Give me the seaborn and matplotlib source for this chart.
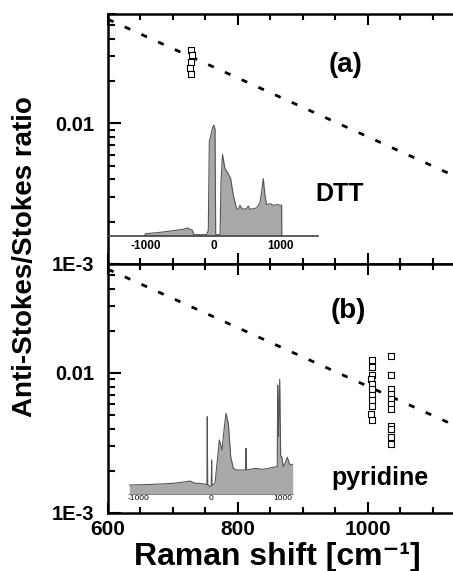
import matplotlib
matplotlib.use("Agg")
import matplotlib.pyplot as plt
import numpy as np
import seaborn as sns
from matplotlib.ticker import MultipleLocator, LogLocator, FuncFormatter, NullFormatter

# Boltzmann line (300 K), read at the two ends of the x range
line_x = [600, 1150]
line_y = [0.0550, 0.0039]

# anti-Stokes/Stokes ratios
dtt_x = [727, 729, 728, 726, 727]
dtt_y = [0.0335, 0.0308, 0.0275, 0.0249, 0.0226]

pyr_x = [1006, 1007, 1006, 1005, 1007, 1006, 1006, 1007, 1006, 1005, 1006,
         1035, 1035, 1035, 1036, 1035, 1035, 1035, 1036, 1035, 1035, 1035]
pyr_y = [0.0123, 0.0110, 0.0096, 0.0090, 0.0083, 0.0077, 0.0070, 0.0064, 0.0058, 0.0051, 0.0046,
         0.0132, 0.0096, 0.0077, 0.0071, 0.0065, 0.0060, 0.0055, 0.0042, 0.0040, 0.0035, 0.0031]

# inset spectra (shift in cm-1, normalised intensity)
dtt_shift = [-1020, -1015, -750, -450, -420, -375, -350, -310, -295, -100, -75, -60, -40, -10,
             10, 25, 35, 100, 115, 137, 172, 222, 257, 297, 346, 371, 396, 431, 496, 520,
             545, 645, 695, 720, 744, 769, 794, 844, 893, 943, 1018, 1020]
dtt_int = [0, 0.02, 0.036, 0.06, 0.066, 0.072, 0.06, 0.051, 0.012, 0.012, 0.05, 0.85, 0.9, 0.98,
           1.0, 0.96, 0.012, 0.012, 0.5, 0.735, 0.61, 0.56, 0.52, 0.37, 0.247, 0.241, 0.277, 0.241, 0.247, 0.271,
           0.241, 0.253, 0.301, 0.398, 0.518, 0.367, 0.283, 0.292, 0.277, 0.283, 0.277, 0]

pyr_shift = [-1122, -791, -515, -331, -286, -216, -152, -65, -52, -47, -42, -28, -10, 8, 13, 18,
             28, 60, 92, 119, 156, 184, 211, 243, 276, 312, 358, 478, 482, 487, 492, 611, 726,
             864, 910, 918, 924, 935, 952, 965, 979, 1002, 1025, 1057, 1084, 1103, 1131]
pyr_int = [0.078, 0.084, 0.093, 0.108, 0.113, 0.093, 0.093, 0.084, 0.084, 0.674, 0.08, 0.078, 0.064, 0.07, 0.297, 0.078,
           0.078, 0.093, 0.297, 0.471, 0.384, 0.558, 0.703, 0.616, 0.326, 0.224, 0.209, 0.209, 0.209, 0.398, 0.209, 0.223, 0.215,
           0.233, 0.238, 0.238, 0.95, 0.5, 1.0, 0.33, 0.326, 0.238, 0.267, 0.32, 0.267, 0.253, 0.259]

sns.set_style("ticks")
plt.rcParams['font.family'] = ['Liberation Sans', 'DejaVu Sans']
plt.rcParams['font.weight'] = 'bold'
plt.rcParams['axes.unicode_minus'] = False
for key in ('text.color', 'axes.labelcolor', 'xtick.color', 'ytick.color'):
    plt.rcParams[key] = 'black'

fig = plt.figure(figsize=(4.53, 5.71), dpi=100)
ax_a = fig.add_axes([0.2384, 0.5377, 0.789, 0.4378])
ax_b = fig.add_axes([0.2384, 0.1016, 0.789, 0.4361])


def ylab(v, pos):
    if np.isclose(v, 0.01):
        return '0.01'
    if np.isclose(v, 0.001):
        return '1E-3'
    return ''


def style_main(ax, show_x):
    ax.set_yscale('log')
    ax.set_xlim(600, 1150)
    ax.set_ylim(1e-3, 0.06)
    for s in ax.spines.values():
        s.set_linewidth(1.8)
        s.set_color('k')
    ax.xaxis.set_major_locator(MultipleLocator(200))
    ax.xaxis.set_minor_locator(MultipleLocator(50))
    ax.yaxis.set_major_locator(LogLocator(base=10))
    ax.yaxis.set_minor_locator(LogLocator(base=10, subs=range(2, 10)))
    ax.yaxis.set_major_formatter(FuncFormatter(ylab))
    ax.yaxis.set_minor_formatter(NullFormatter())
    ax.tick_params(axis='x', which='both', direction='in', top=True, bottom=True,
                   width=1.5, labelsize=15, pad=5, labelbottom=show_x)
    ax.tick_params(axis='x', which='major', length=8)
    ax.tick_params(axis='x', which='minor', length=4)
    ax.tick_params(axis='y', which='both', direction='in', left=True, right=False,
                   width=1.5, labelsize=14.5, pad=10)
    ax.tick_params(axis='y', which='major', length=9)
    ax.tick_params(axis='y', which='minor', length=5)
    ax.set_xlabel('')
    ax.set_ylabel('')


for ax in (ax_a, ax_b):
    ax.set_yscale('log')
    sns.lineplot(x=line_x, y=line_y, ax=ax, color='k', lw=2.0,
                 linestyle=(0, (2.2, 4.4)))

sns.scatterplot(x=dtt_x, y=dtt_y, ax=ax_a, marker='s', s=24, color='white',
                edgecolor='k', linewidth=0.8, zorder=3)
sns.scatterplot(x=pyr_x, y=pyr_y, ax=ax_b, marker='s', s=24, color='white',
                edgecolor='k', linewidth=0.8, zorder=3)

style_main(ax_a, False)
style_main(ax_b, True)

ax_a.text(0.666, 0.796, '(a)', transform=ax_a.transAxes, ha='center', va='center', fontsize=20)
ax_a.text(0.649, 0.28, 'DTT', transform=ax_a.transAxes, ha='center', va='center', fontsize=18)
ax_b.text(0.671, 0.811, '(b)', transform=ax_b.transAxes, ha='center', va='center', fontsize=20)
ax_b.text(0.761, 0.14, 'pyridine', transform=ax_b.transAxes, ha='center', va='center', fontsize=18)

# insets with the spectra
ins_a = fig.add_axes([0.2384, 0.5867, 0.4636, 0.198])
ins_b = fig.add_axes([0.2826, 0.1349, 0.3642, 0.2048])
for ins, xs, ys, xl, fs, w in ((ins_a, dtt_shift, dtt_int, (-1570, 1560), 8.5, 'bold'),
                               (ins_b, pyr_shift, pyr_int, (-1140, 1135), 6, 'normal')):
    ins.patch.set_alpha(0)
    ins.fill_between(xs, ys, color='#a9a9a9', lw=0)
    sns.lineplot(x=xs, y=ys, ax=ins, color='#555555', lw=0.8, estimator=None, sort=False)
    ins.set_xlim(*xl)
    ins.set_ylim(0, 1.02)
    for side in ('top', 'right', 'left'):
        ins.spines[side].set_visible(False)
    ins.set_xticks([-1000, 0, 1000])
    ins.set_yticks([])
    for lab in ins.get_xticklabels():
        lab.set_fontweight(w)
    ins.tick_params(axis='x', length=0, labelsize=fs, pad=3 if ins is ins_a else 1)
ins_a.spines['bottom'].set_color('#444444')
ins_a.spines['bottom'].set_linewidth(1.2)
ins_b.spines['bottom'].set_color('#777777')
ins_b.spines['bottom'].set_linewidth(0.6)

fig.text(0.055, 0.55, 'Anti-Stokes/Stokes ratio', rotation=90, ha='center', va='center', fontsize=20)
fig.text(0.612, 0.011, 'Raman shift [cm⁻¹]', ha='center', va='baseline', fontsize=23)

fig.savefig('out.png', dpi=100)
